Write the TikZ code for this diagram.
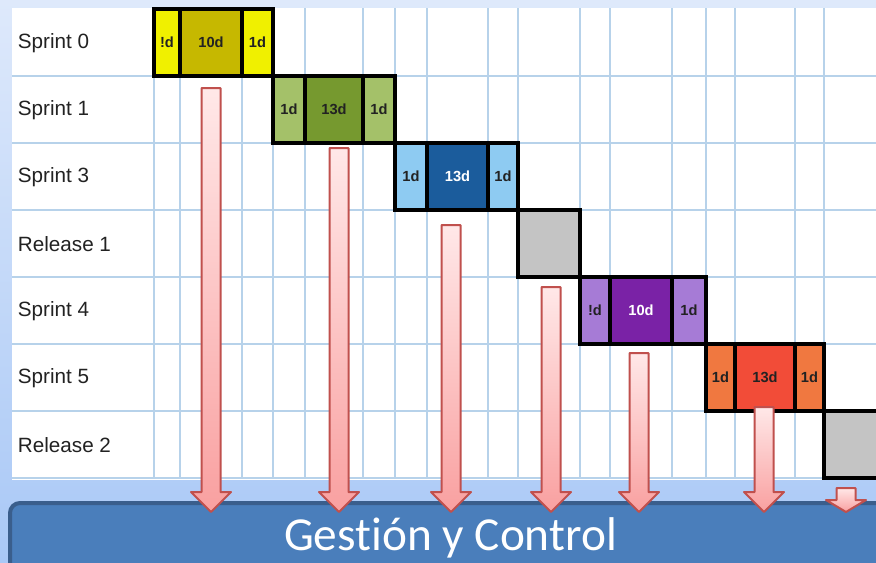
\documentclass[tikz,border=0pt]{standalone}
\usepackage{fontspec}
\setmainfont{Liberation Sans}
\newfontfamily\barfont[Ligatures=NoCommon]{Carlito}

\definecolor{bgTop}{RGB}{222,233,251}
\definecolor{bgBot}{RGB}{169,200,246}
\definecolor{gridBlue}{RGB}{183,210,234}
\definecolor{yelLight}{RGB}{240,240,0}
\definecolor{yelDark}{RGB}{198,184,0}
\definecolor{grnLight}{RGB}{164,193,105}
\definecolor{grnDark}{RGB}{118,153,47}
\definecolor{bluLight}{RGB}{142,203,242}
\definecolor{bluDark}{RGB}{27,92,156}
\definecolor{relGrey}{RGB}{196,196,196}
\definecolor{purLight}{RGB}{166,123,214}
\definecolor{purDark}{RGB}{122,34,166}
\definecolor{orgLight}{RGB}{240,120,64}
\definecolor{orgDark}{RGB}{242,76,56}
\definecolor{arrowEdge}{RGB}{192,80,77}
\definecolor{pinkTop}{RGB}{255,232,232}
\definecolor{pinkBot}{RGB}{249,160,160}
\definecolor{barFill}{RGB}{74,126,187}
\definecolor{barEdge}{RGB}{58,94,140}
\definecolor{labelInk}{RGB}{34,34,34}

\tikzset{every picture/.style={line width=0.75pt}}
\tikzset{
  gridline/.style={draw=gridBlue, line width=0.8pt},
  cellbox/.style={draw=black, line width=3pt},
  celltext/.style={font=\fontsize{11}{12}\selectfont\bfseries, text=labelInk},
  rowlabel/.style={anchor=west, font=\fontsize{15.5}{18}\selectfont, text=labelInk},
  arrowbody/.style={draw=arrowEdge, line width=1.5pt, line join=round, top color=pinkTop, bottom color=pinkBot},
  barbox/.style={draw=barEdge, fill=barFill, line width=3pt, rounded corners=7.5pt},
}

% block arrow: centre x, top of shaft, start of head
\newcommand{\dropArrow}[3]{%
  \draw [arrowbody] ({#1-9.5},#2) -- ({#1+9.5},#2) -- ({#1+9.5},#3) -- ({#1+20},#3) -- (#1,512) -- ({#1-20},#3) -- ({#1-9.5},#3) -- cycle ;}

\begin{document}
\begin{tikzpicture}[x=0.75pt,y=0.75pt,yscale=-1,xscale=1]
	\useasboundingbox (0,0) rectangle (876,562);
	\clip (0,0) rectangle (876,562);

	%Shape: Background
	\shade [top color=bgTop, bottom color=bgBot] (0,0) rectangle (876,562) ;
	%Shape: Chart area
	\fill [white] (12,8) rectangle (900,480) ;

	%Straight Lines: grid
	\foreach \gx in {154,180,242,273,305,363,395,427,488,518,580,610,672,706,735,795,824}
		\draw [gridline] (\gx,8) -- (\gx,479) ;
	\foreach \gy in {76,143,210,277,344,411,478}
		\draw [gridline] (12,\gy) -- (900,\gy) ;

	% Text Node
	\node [rowlabel] (lab0) at (13,43) {Sprint 0};
	\node [rowlabel] (lab1) at (13,110) {Sprint 1};
	\node [rowlabel] (lab3) at (13,177) {Sprint 3};
	\node [rowlabel] (labr1) at (13,244) {Release 1};
	\node [rowlabel] (lab4) at (13,311) {Sprint 4};
	\node [rowlabel] (lab5) at (13,378) {Sprint 5};
	\node [rowlabel] (labr2) at (13,445) {Release 2};

	%Shape: Sprint 0
	\draw [cellbox, fill=yelLight] (154,9) rectangle node [celltext] (s0a) {!d} (180,76) ;
	\draw [cellbox, fill=yelDark] (180,9) rectangle node [celltext] (s0b) {10d} (242,76) ;
	\draw [cellbox, fill=yelLight] (242,9) rectangle node [celltext] (s0c) {1d} (273,76) ;
	%Shape: Sprint 1
	\draw [cellbox, fill=grnLight] (273,76) rectangle node [celltext] (s1a) {1d} (305,143) ;
	\draw [cellbox, fill=grnDark] (305,76) rectangle node [celltext] (s1b) {13d} (363,143) ;
	\draw [cellbox, fill=grnLight] (363,76) rectangle node [celltext] (s1c) {1d} (395,143) ;
	%Shape: Sprint 3
	\draw [cellbox, fill=bluLight] (395,143) rectangle node [celltext] (s3a) {1d} (427,210) ;
	\draw [cellbox, fill=bluDark] (427,143) rectangle node [celltext, text=white] (s3b) {13d} (488,210) ;
	\draw [cellbox, fill=bluLight] (488,143) rectangle node [celltext] (s3c) {1d} (518,210) ;
	%Shape: Release 1
	\draw [cellbox, fill=relGrey] (518,210) rectangle (580,277) ;
	%Shape: Sprint 4
	\draw [cellbox, fill=purLight] (580,277) rectangle node [celltext] (s4a) {!d} (610,344) ;
	\draw [cellbox, fill=purDark] (610,277) rectangle node [celltext, text=white] (s4b) {10d} (672,344) ;
	\draw [cellbox, fill=purLight] (672,277) rectangle node [celltext] (s4c) {1d} (706,344) ;
	%Shape: Sprint 5
	\draw [cellbox, fill=orgLight] (706,344) rectangle node [celltext] (s5a) {1d} (735,411) ;
	\draw [cellbox, fill=orgDark] (735,344) rectangle node [celltext] (s5b) {13d} (795,411) ;
	\draw [cellbox, fill=orgLight] (795,344) rectangle node [celltext] (s5c) {1d} (824,411) ;
	%Shape: Release 2
	\draw [cellbox, fill=relGrey] (824,411) rectangle (900,478) ;

	%Shape: Bar
	\draw [barbox] (10,503) rectangle (910,600) ;
	% Text Node
	\node [anchor=base, text=white, font=\barfont\fontsize{35.5}{40}\selectfont] (ctrl) at (450.5,550) {Gestión y Control};

	%Shape: Arrows
	\dropArrow{211}{88}{492}
	\dropArrow{339}{148}{492}
	\dropArrow{451}{225}{492}
	\dropArrow{551}{287}{492}
	\dropArrow{639}{353}{492}
	\dropArrow{764}{407}{492}
	\dropArrow{846}{488}{500}

\end{tikzpicture}
\end{document}
